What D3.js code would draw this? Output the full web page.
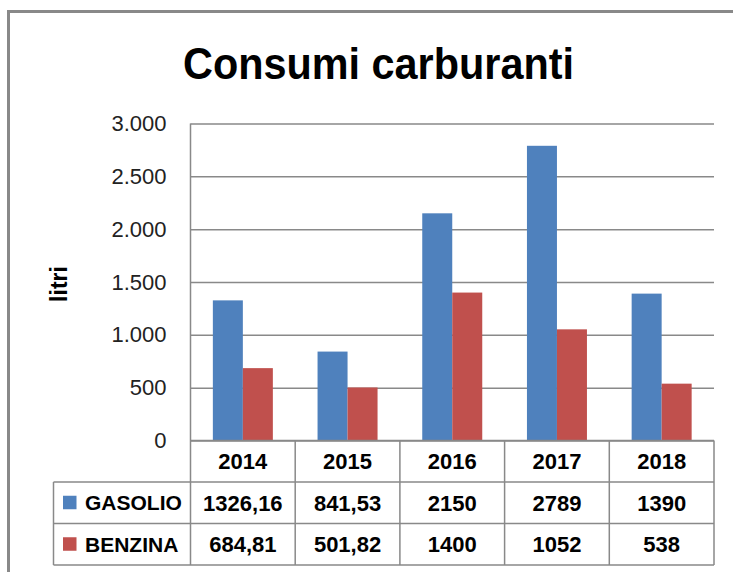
<!DOCTYPE html>
<html>
<head>
<meta charset="utf-8">
<script src="https://cdn.jsdelivr.net/npm/d3@7"></script>
<style>
  body { margin: 0; background: #fff; }
  text { font-family: "Liberation Sans", Arial, sans-serif; }
</style>
</head>
<body>
<div id="chartContainer"></div>
<script>
// data
const years = ["2014", "2015", "2016", "2017", "2018"];
const gasolio = [1326.16, 841.53, 2150, 2789, 1390];
const benzina = [684.81, 501.82, 1400, 1052, 538];
const seriesNames = ["GASOLIO", "BENZINA"];
const yTicks = [0, 500, 1000, 1500, 2000, 2500, 3000];

const width = 733,
  height = 572,
  plot = { left: 190.5, right: 714, top: 123.5, bottom: 440.5 },
  rowH = 41.5,
  blue = "#4F81BD",
  red = "#C0504D",
  lineCol = "#898989";

const series = [
  { name: seriesNames[0], values: gasolio, color: blue },
  { name: seriesNames[1], values: benzina, color: red }
];

const it = d3.formatLocale({ decimal: ",", thousands: ".", grouping: [3], currency: ["€", ""] });

const svg = d3
  .select("#chartContainer")
  .append("svg")
  .attr("width", width)
  .attr("height", height);

// outer chart border
svg.append("rect")
  .attr("x", 8.5).attr("y", 11.5)
  .attr("width", 800).attr("height", 700)
  .attr("fill", "none")
  .attr("stroke", lineCol)
  .attr("stroke-width", 3);

// title
svg.append("text")
  .attr("x", 378.5)
  .attr("y", 79)
  .attr("text-anchor", "middle")
  .attr("font-size", 44)
  .attr("font-weight", "bold")
  .attr("textLength", 391)
  .attr("lengthAdjust", "spacingAndGlyphs")
  .text("Consumi carburanti");

// scales
const x = d3.scaleBand().domain(years).range([plot.left, plot.right]);
const x1 = d3.scaleBand().domain(seriesNames).range([0, x.bandwidth()]).paddingOuter(0.745);
const y = d3.scaleLinear().domain([0, 3000]).range([plot.bottom, plot.top]);

// Y axis with gridlines
const yAxis = svg.append("g")
  .attr("transform", "translate(" + plot.left + ",0)")
  .call(d3.axisLeft(y)
    .tickValues(yTicks)
    .tickSize(-(plot.right - plot.left))
    .tickPadding(24)
    .tickFormat(it.format(",d")));
yAxis.select(".domain").remove();
yAxis.selectAll(".tick line").attr("stroke", lineCol).attr("stroke-width", 1.5);
yAxis.selectAll(".tick text")
  .attr("font-size", 22)
  .attr("font-family", "'Liberation Sans', Arial, sans-serif")
  .attr("fill", "#222");

// y axis title
svg.append("text")
  .attr("transform", "translate(67,284) rotate(-90)")
  .attr("text-anchor", "middle")
  .attr("font-size", 23)
  .attr("font-weight", "bold")
  .text("litri");

// bars
svg.append("g")
  .selectAll("g")
  .data(series)
  .enter()
  .append("g")
  .attr("fill", (s) => s.color)
  .selectAll("rect")
  .data((s) => s.values.map((v, i) => ({ year: years[i], value: v, name: s.name })))
  .enter()
  .append("rect")
  .attr("x", (d) => x(d.year) + x1(d.name))
  .attr("y", (d) => y(d.value))
  .attr("width", x1.bandwidth())
  .attr("height", (d) => y(0) - y(d.value));

// data table
const tableLeft = 53.5;
const rows = [plot.bottom, plot.bottom + rowH, plot.bottom + 2 * rowH, plot.bottom + 3 * rowH];
const grid = svg.append("g").attr("stroke", lineCol).attr("stroke-width", 1.5);

grid.append("line").attr("x1", plot.left).attr("x2", plot.right).attr("y1", rows[0]).attr("y2", rows[0]);
rows.slice(1).forEach((r) => {
  grid.append("line").attr("x1", tableLeft).attr("x2", plot.right).attr("y1", r).attr("y2", r);
});
grid.append("line").attr("x1", tableLeft).attr("x2", tableLeft).attr("y1", rows[1]).attr("y2", rows[3]);
grid.append("line").attr("x1", plot.left).attr("x2", plot.left).attr("y1", plot.top).attr("y2", rows[3]);
years.forEach((yr) => {
  const xr = x(yr) + x.bandwidth();
  grid.append("line").attr("x1", xr).attr("x2", xr).attr("y1", rows[0]).attr("y2", rows[3]);
});

// year header
svg.append("g")
  .selectAll("text")
  .data(years)
  .enter()
  .append("text")
  .attr("x", (d) => x(d) + x.bandwidth() / 2)
  .attr("y", rows[0] + rowH / 2)
  .attr("dy", "0.36em")
  .attr("text-anchor", "middle")
  .attr("font-size", 22)
  .attr("font-weight", "bold")
  .text((d) => d);

// series rows
series.forEach((s, k) => {
  const cy = rows[k + 1] + rowH / 2;
  svg.append("rect")
    .attr("x", 63).attr("y", cy - 7)
    .attr("width", 13.5).attr("height", 13.5)
    .attr("fill", s.color);
  svg.append("text")
    .attr("x", 85)
    .attr("y", cy)
    .attr("dy", "0.36em")
    .attr("font-size", 21)
    .attr("font-weight", "bold")
    .text(s.name);
  svg.append("g")
    .selectAll("text")
    .data(s.values)
    .enter()
    .append("text")
    .attr("x", (d, i) => x(years[i]) + x.bandwidth() / 2)
    .attr("y", cy)
    .attr("dy", "0.36em")
    .attr("text-anchor", "middle")
    .attr("font-size", 22)
    .attr("font-weight", "bold")
    .text((d) => String(d).replace(".", ","));
});
</script>
</body>
</html>
